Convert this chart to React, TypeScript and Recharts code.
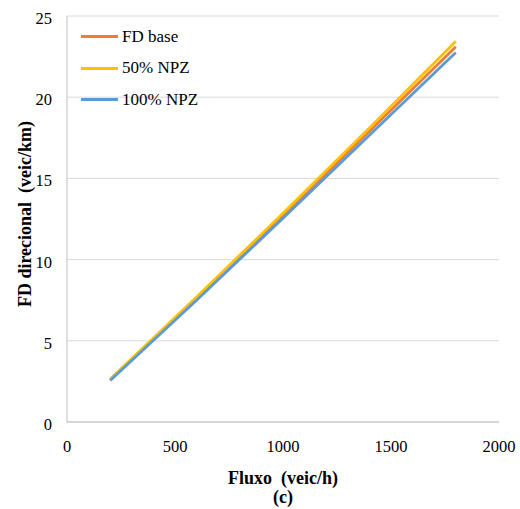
import { LineChart, Line, XAxis, YAxis, CartesianGrid, Label } from 'recharts';

// Fluxo (veic/h)
const flows = [200, 600, 1000, 1400, 1800];
const fdBase = [2.6, 7.6, 12.7, 17.9, 23.1];
const npz50 = [2.65, 7.7, 12.85, 18.1, 23.45];
const npz100 = [2.55, 7.5, 12.55, 17.65, 22.75];

const xTicks = [0, 500, 1000, 1500, 2000];
const yTicks = [0, 5, 10, 15, 20, 25];

const series = [
  { key: 'base', name: 'FD base', color: '#ED7D31' },
  { key: 'npz50', name: '50% NPZ', color: '#FFC000' },
  { key: 'npz100', name: '100% NPZ', color: '#5B9BD5' },
];

const chartData = flows.map((f, i) => ({
  flow: f,
  base: fdBase[i],
  npz50: npz50[i],
  npz100: npz100[i],
}));

const font = '"Liberation Serif", "Times New Roman", serif';

// legend sits inside the plot, top-left, like the Excel original
const LegendBox = () => (
  <div style={{ position: 'absolute', left: 81, top: 21, fontFamily: font, fontSize: 17, color: '#000' }}>
    {series.map((s) => (
      <div key={s.key} style={{ display: 'flex', alignItems: 'center', height: 31.5 }}>
        <span style={{ display: 'inline-block', width: 37, height: 3, background: s.color, marginRight: 4 }} />
        <span>{s.name}</span>
      </div>
    ))}
  </div>
);

const XTick = ({ x, y, payload }: any) => (
  <text x={x} y={y + 20} textAnchor="middle" fontSize={16.5} fill="#000" style={{ fontFamily: font }}>
    {payload.value}
  </text>
);

const YTick = ({ x, y, payload }: any) => (
  <text x={x} y={y + 8} textAnchor="end" fontSize={16.5} fill="#000" style={{ fontFamily: font }}>
    {payload.value}
  </text>
);

const XTitle = ({ viewBox }: any) => {
  const cx = viewBox.x + viewBox.width / 2;
  return (
    <g fontSize={18} fontWeight="bold" fill="#000" textAnchor="middle" style={{ fontFamily: font }}>
      <text x={cx} y={484} style={{ whiteSpace: 'pre' }}>{'Fluxo  (veic/h)'}</text>
      <text x={cx} y={503}>(c)</text>
    </g>
  );
};

const YTitle = () => (
  <text
    x={31}
    y={214}
    transform="rotate(-90 31 214)"
    textAnchor="middle"
    fontSize={18}
    fontWeight="bold"
    fill="#000"
    style={{ whiteSpace: 'pre', fontFamily: font }}
  >
    {'FD direcional  (veic/km)'}
  </text>
);

export default function App() {
  return (
    <div style={{ position: 'absolute', left: 0, top: 0, width: 520, height: 509, background: '#fff', fontFamily: font }}>
      <LineChart
        width={520}
        height={509}
        data={chartData}
        margin={{ top: 16, right: 21, left: 0, bottom: 0 }}
      >
        <CartesianGrid vertical={false} stroke="#d9d9d9" />
        <XAxis
          dataKey="flow"
          type="number"
          domain={[0, 2000]}
          ticks={xTicks}
          height={87}
          tickLine={false}
          axisLine={{ stroke: '#bfbfbf' }}
          tickMargin={4}
          tick={<XTick />}
        >
          <Label content={<XTitle />} />
        </XAxis>
        <YAxis
          type="number"
          domain={[0, 25]}
          ticks={yTicks}
          width={67}
          tickLine={false}
          axisLine={{ stroke: '#bfbfbf' }}
          tickMargin={9}
          tick={<YTick />}
        >
          <Label content={<YTitle />} />
        </YAxis>
        {series.map((s) => (
          <Line
            key={s.key}
            dataKey={s.key}
            name={s.name}
            stroke={s.color}
            strokeWidth={2.8}
            dot={false}
            isAnimationActive={false}
          />
        ))}
      </LineChart>
      <LegendBox />
    </div>
  );
}
